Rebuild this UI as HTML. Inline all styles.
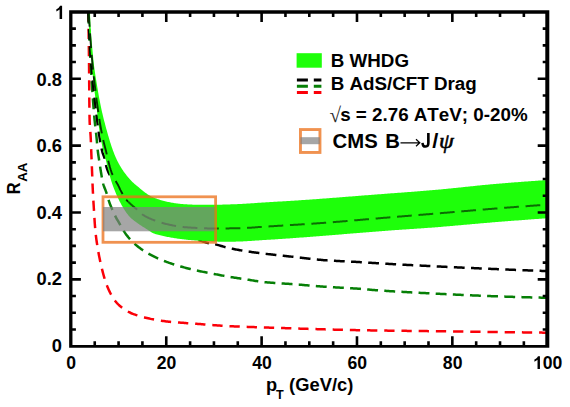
<!DOCTYPE html>
<html><head><meta charset="utf-8"><title>RAA</title>
<style>html,body{margin:0;padding:0;background:#fff;font-family:"Liberation Sans",sans-serif;}svg{display:block}</style></head>
<body>
<svg width="570" height="407" viewBox="0 0 570 407" style="display:block">
<defs><clipPath id="cp"><rect x="70.90" y="11.90" width="476.80" height="334.30"/></clipPath></defs>
<rect width="570" height="407" fill="#fff"/>
<g clip-path="url(#cp)" fill="none" stroke-linecap="butt">
<path d="M88.30 12.00 L88.32 13.22 L88.34 14.44 L88.36 15.66 L88.38 16.88 L88.40 18.10 L88.42 19.31 L88.44 20.53 L88.46 21.75 L88.48 22.97 L88.50 24.19 L88.52 25.41 L88.54 26.63 L88.55 27.85 L88.57 29.07 L88.59 30.29 L88.61 31.51 L88.63 32.73 L88.65 33.95 L88.67 35.16 L88.68 36.38 L88.70 37.60 L88.72 38.82 L88.74 40.04 L88.75 41.26 L88.77 42.48 L88.79 43.70 L88.81 44.92 L88.82 46.14 L88.84 47.36 L88.86 48.58 L88.87 49.79 L88.89 51.01 L88.90 52.23 L88.92 53.45 L88.93 54.67 L88.95 55.89 L88.96 57.11 L88.98 58.33 L88.99 59.55 L89.01 60.77 L89.02 61.99 L89.04 63.21 L89.05 64.43 L89.06 65.65 L89.07 66.86 L89.08 68.08 L89.09 69.30 L89.10 70.52 L89.11 71.74 L89.12 72.96 L89.13 74.18 L89.14 75.40 L89.15 76.62 L89.16 77.84 L89.17 79.06 L89.18 80.28 L89.18 81.50 L89.19 82.72 L89.20 83.94 L89.21 85.16 L89.22 86.38 L89.22 87.60 L89.23 88.82 L89.24 90.04 L89.25 91.26 L89.26 92.48 L89.27 93.70 L89.28 94.92 L89.29 96.14 L89.30 97.36 L89.31 98.57 L89.32 99.79 L89.33 101.01 L89.34 102.23 L89.36 103.45 L89.37 104.67 L89.38 105.89 L89.40 107.11 L89.41 108.33 L89.43 109.55 L89.44 110.76 L89.46 111.98 L89.48 113.20 L89.50 114.42 L89.52 115.64 L89.54 116.86 L89.56 118.07 L89.59 119.29 L89.61 120.51 L89.65 121.73 L89.70 122.95 L89.77 124.16 L89.84 125.38 L89.93 126.60 L90.02 127.81 L90.11 129.03 L90.20 130.25 L90.30 131.46 L90.39 132.68 L90.48 133.90 L90.56 135.11 L90.64 136.33 L90.70 137.55 L90.76 138.76 L90.82 139.98 L90.87 141.20 L90.92 142.42 L90.97 143.64 L91.02 144.86 L91.06 146.07 L91.11 147.29 L91.15 148.51 L91.20 149.73 L91.24 150.95 L91.29 152.17 L91.34 153.39 L91.38 154.60 L91.43 155.82 L91.48 157.04 L91.53 158.26 L91.58 159.48 L91.63 160.70 L91.67 161.91 L91.72 163.13 L91.77 164.35 L91.82 165.57 L91.87 166.79 L91.92 168.01 L91.97 169.22 L92.01 170.44 L92.06 171.66 L92.11 172.88 L92.16 174.10 L92.21 175.32 L92.25 176.53 L92.30 177.75 L92.35 178.97 L92.39 180.19 L92.44 181.41 L92.49 182.63 L92.53 183.85 L92.58 185.06 L92.63 186.28 L92.69 187.50 L92.74 188.72 L92.80 189.94 L92.86 191.15 L92.92 192.37 L92.98 193.59 L93.04 194.81 L93.11 196.02 L93.18 197.24 L93.25 198.46 L93.32 199.68 L93.39 200.89 L93.46 202.11 L93.54 203.33 L93.61 204.55 L93.69 205.76 L93.76 206.98 L93.83 208.20 L93.91 209.41 L93.98 210.63 L94.05 211.85 L94.12 213.07 L94.19 214.29 L94.27 215.50 L94.34 216.72 L94.42 217.94 L94.50 219.16 L94.58 220.37 L94.66 221.59 L94.74 222.81 L94.83 224.02 L94.92 225.24 L95.01 226.45 L95.11 227.67 L95.21 228.88 L95.32 230.10 L95.43 231.31 L95.55 232.52 L95.68 233.73 L95.81 234.94 L95.96 236.16 L96.11 237.37 L96.27 238.58 L96.43 239.79 L96.60 240.99 L96.78 242.20 L96.96 243.41 L97.14 244.61 L97.33 245.82 L97.52 247.02 L97.71 248.22 L97.91 249.43 L98.12 250.63 L98.34 251.83 L98.55 253.03 L98.78 254.23 L99.01 255.43 L99.24 256.63 L99.48 257.83 L99.73 259.03 L99.98 260.22 L100.23 261.41 L100.49 262.61 L100.76 263.79 L101.03 264.98 L101.31 266.17 L101.59 267.35 L101.87 268.53 L102.17 269.72 L102.47 270.90 L102.77 272.09 L103.08 273.28 L103.40 274.47 L103.73 275.66 L104.07 276.84 L104.42 278.02 L104.78 279.20 L105.14 280.37 L105.52 281.53 L105.92 282.68 L106.32 283.83 L106.74 284.96 L107.17 286.09 L107.61 287.20 L108.07 288.30 L108.56 289.41 L109.07 290.53 L109.60 291.65 L110.16 292.77 L110.74 293.89 L111.35 294.99 L111.98 296.09 L112.62 297.16 L113.29 298.21 L113.98 299.24 L114.69 300.23 L115.42 301.19 L116.16 302.11 L116.93 302.99 L117.71 303.82 L118.53 304.64 L119.40 305.45 L120.31 306.25 L121.26 307.03 L122.24 307.81 L123.26 308.56 L124.29 309.29 L125.35 309.99 L126.43 310.66 L127.52 311.30 L128.61 311.91 L129.72 312.47 L130.82 313.00 L131.92 313.47 L133.01 313.90 L134.11 314.30 L135.21 314.69 L136.33 315.07 L137.47 315.44 L138.61 315.80 L139.76 316.15 L140.93 316.49 L142.10 316.82 L143.28 317.14 L144.47 317.45 L145.66 317.75 L146.86 318.04 L148.07 318.32 L149.28 318.59 L150.50 318.86 L151.71 319.11 L152.93 319.35 L154.16 319.58 L155.38 319.80 L156.60 320.02 L157.82 320.22 L159.04 320.42 L160.26 320.60 L161.48 320.78 L162.69 320.94 L163.90 321.10 L165.10 321.25 L166.30 321.39 L167.51 321.52 L168.71 321.65 L169.92 321.78 L171.13 321.89 L172.35 322.01 L173.56 322.12 L174.77 322.22 L175.99 322.32 L177.20 322.42 L178.42 322.52 L179.64 322.61 L180.86 322.70 L182.08 322.79 L183.30 322.87 L184.51 322.96 L185.73 323.05 L186.95 323.13 L188.17 323.21 L189.39 323.30 L190.61 323.38 L191.83 323.47 L193.05 323.56 L194.27 323.65 L195.48 323.74 L196.70 323.83 L197.92 323.93 L199.13 324.02 L200.35 324.12 L201.56 324.22 L202.78 324.31 L203.99 324.41 L205.21 324.51 L206.42 324.61 L207.64 324.71 L208.86 324.80 L210.07 324.90 L211.29 325.00 L212.50 325.09 L213.72 325.18 L214.94 325.28 L216.15 325.37 L217.37 325.45 L218.58 325.54 L219.80 325.62 L221.02 325.70 L222.23 325.78 L223.45 325.86 L224.67 325.93 L225.88 326.00 L227.10 326.06 L228.32 326.12 L229.54 326.18 L230.75 326.24 L231.97 326.29 L233.19 326.35 L234.41 326.40 L235.63 326.45 L236.84 326.50 L238.06 326.55 L239.28 326.59 L240.50 326.64 L241.72 326.68 L242.94 326.73 L244.15 326.77 L245.37 326.81 L246.59 326.86 L247.81 326.90 L249.03 326.94 L250.25 326.98 L251.47 327.02 L252.69 327.06 L253.91 327.10 L255.12 327.14 L256.34 327.18 L257.56 327.22 L258.78 327.26 L260.00 327.30 L261.22 327.34 L262.44 327.38 L263.66 327.42 L264.87 327.46 L266.09 327.50 L267.31 327.54 L268.53 327.59 L269.75 327.63 L270.97 327.67 L272.19 327.71 L273.40 327.75 L274.62 327.79 L275.84 327.83 L277.06 327.87 L278.28 327.91 L279.50 327.95 L280.72 327.99 L281.94 328.04 L283.15 328.08 L284.37 328.12 L285.59 328.16 L286.81 328.20 L288.03 328.24 L289.25 328.28 L290.47 328.32 L291.68 328.36 L292.90 328.40 L294.12 328.44 L295.34 328.48 L296.56 328.52 L297.78 328.56 L299.00 328.60 L300.22 328.63 L301.43 328.67 L302.65 328.71 L303.87 328.75 L305.09 328.79 L306.31 328.83 L307.53 328.86 L308.75 328.90 L309.97 328.94 L311.19 328.98 L312.40 329.01 L313.62 329.05 L314.84 329.09 L316.06 329.12 L317.28 329.16 L318.50 329.19 L319.72 329.23 L320.94 329.27 L322.15 329.30 L323.37 329.33 L324.59 329.37 L325.81 329.40 L327.03 329.44 L328.25 329.47 L329.47 329.50 L330.69 329.54 L331.91 329.57 L333.12 329.60 L334.34 329.63 L335.56 329.66 L336.78 329.69 L338.00 329.72 L339.22 329.75 L340.44 329.78 L341.66 329.81 L342.88 329.84 L344.09 329.87 L345.31 329.90 L346.53 329.93 L347.75 329.95 L348.97 329.98 L350.19 330.01 L351.41 330.03 L352.63 330.06 L353.85 330.08 L355.07 330.11 L356.28 330.13 L357.50 330.15 L358.72 330.18 L359.94 330.20 L361.16 330.22 L362.38 330.24 L363.60 330.26 L364.82 330.29 L366.04 330.31 L367.26 330.33 L368.47 330.35 L369.69 330.37 L370.91 330.39 L372.13 330.41 L373.35 330.42 L374.57 330.44 L375.79 330.46 L377.01 330.48 L378.23 330.50 L379.45 330.52 L380.67 330.53 L381.89 330.55 L383.10 330.57 L384.32 330.59 L385.54 330.60 L386.76 330.62 L387.98 330.64 L389.20 330.65 L390.42 330.67 L391.64 330.69 L392.86 330.70 L394.08 330.72 L395.30 330.73 L396.52 330.75 L397.73 330.76 L398.95 330.78 L400.17 330.80 L401.39 330.81 L402.61 330.83 L403.83 330.84 L405.05 330.85 L406.27 330.87 L407.49 330.88 L408.71 330.90 L409.93 330.91 L411.15 330.93 L412.37 330.94 L413.59 330.96 L414.80 330.97 L416.02 330.99 L417.24 331.00 L418.46 331.01 L419.68 331.03 L420.90 331.04 L422.12 331.06 L423.34 331.07 L424.56 331.09 L425.78 331.10 L427.00 331.11 L428.22 331.13 L429.44 331.14 L430.66 331.16 L431.87 331.17 L433.09 331.19 L434.31 331.20 L435.53 331.22 L436.75 331.23 L437.97 331.25 L439.19 331.26 L440.41 331.28 L441.63 331.29 L442.85 331.31 L444.07 331.32 L445.29 331.34 L446.51 331.35 L447.72 331.37 L448.94 331.39 L450.16 331.40 L451.38 331.42 L452.60 331.43 L453.82 331.45 L455.04 331.47 L456.26 331.48 L457.48 331.50 L458.70 331.52 L459.92 331.53 L461.14 331.55 L462.36 331.56 L463.57 331.58 L464.79 331.60 L466.01 331.61 L467.23 331.63 L468.45 331.65 L469.67 331.66 L470.89 331.68 L472.11 331.69 L473.33 331.71 L474.55 331.73 L475.77 331.74 L476.99 331.76 L478.20 331.78 L479.42 331.79 L480.64 331.81 L481.86 331.82 L483.08 331.84 L484.30 331.86 L485.52 331.87 L486.74 331.89 L487.96 331.91 L489.18 331.92 L490.40 331.94 L491.62 331.95 L492.84 331.97 L494.05 331.99 L495.27 332.00 L496.49 332.02 L497.71 332.04 L498.93 332.05 L500.15 332.07 L501.37 332.08 L502.59 332.10 L503.81 332.12 L505.03 332.13 L506.25 332.15 L507.47 332.16 L508.69 332.18 L509.90 332.20 L511.12 332.21 L512.34 332.23 L513.56 332.25 L514.78 332.26 L516.00 332.28 L517.22 332.29 L518.44 332.31 L519.66 332.33 L520.88 332.34 L522.10 332.36 L523.32 332.38 L524.53 332.39 L525.75 332.41 L526.97 332.42 L528.19 332.44 L529.41 332.46 L530.63 332.47 L531.85 332.49 L533.07 332.51 L534.29 332.52 L535.51 332.54 L536.73 332.55 L537.95 332.57 L539.17 332.59 L540.38 332.60 L541.60 332.62 L542.82 332.64 L544.04 332.65 L545.26 332.67 L546.48 332.68 L547.70 332.70" stroke="#fb0008" stroke-width="2.5" stroke-dasharray="10.3 6.905" stroke-dashoffset="-16.7"/>
<path d="M88.40 12.00 L88.44 13.10 L88.47 14.21 L88.51 15.31 L88.55 16.42 L88.59 17.52 L88.63 18.63 L88.67 19.73 L88.71 20.83 L88.75 21.94 L88.80 23.04 L88.84 24.15 L88.88 25.25 L88.93 26.36 L88.97 27.46 L89.02 28.56 L89.06 29.67 L89.11 30.77 L89.15 31.88 L89.20 32.98 L89.25 34.08 L89.30 35.19 L89.35 36.29 L89.39 37.39 L89.44 38.50 L89.49 39.60 L89.55 40.71 L89.60 41.81 L89.65 42.91 L89.70 44.02 L89.75 45.12 L89.80 46.22 L89.86 47.33 L89.91 48.43 L89.97 49.53 L90.02 50.64 L90.08 51.74 L90.13 52.84 L90.19 53.95 L90.24 55.05 L90.30 56.15 L90.36 57.26 L90.41 58.36 L90.47 59.46 L90.53 60.57 L90.59 61.67 L90.65 62.77 L90.71 63.88 L90.77 64.98 L90.83 66.08 L90.89 67.19 L90.95 68.29 L91.01 69.39 L91.07 70.50 L91.13 71.60 L91.20 72.70 L91.26 73.81 L91.33 74.91 L91.39 76.01 L91.46 77.12 L91.52 78.22 L91.59 79.32 L91.66 80.42 L91.72 81.53 L91.79 82.63 L91.86 83.73 L91.93 84.84 L92.00 85.94 L92.07 87.04 L92.14 88.15 L92.22 89.25 L92.29 90.35 L92.36 91.45 L92.44 92.56 L92.51 93.66 L92.59 94.76 L92.67 95.86 L92.74 96.97 L92.82 98.07 L92.90 99.17 L92.98 100.27 L93.06 101.37 L93.15 102.48 L93.23 103.58 L93.31 104.68 L93.40 105.78 L93.48 106.88 L93.57 107.98 L93.66 109.09 L93.74 110.19 L93.83 111.29 L93.92 112.39 L94.02 113.49 L94.11 114.59 L94.20 115.69 L94.30 116.79 L94.39 117.89 L94.49 118.99 L94.59 120.09 L94.71 121.19 L94.82 122.29 L94.94 123.38 L95.07 124.48 L95.19 125.58 L95.32 126.68 L95.45 127.77 L95.58 128.87 L95.71 129.97 L95.84 131.07 L95.97 132.16 L96.10 133.26 L96.22 134.36 L96.34 135.46 L96.46 136.56 L96.56 137.66 L96.67 138.76 L96.77 139.86 L96.87 140.96 L96.96 142.06 L97.05 143.16 L97.15 144.26 L97.24 145.36 L97.34 146.46 L97.44 147.56 L97.55 148.66 L97.66 149.76 L97.78 150.86 L97.92 151.96 L98.06 153.05 L98.21 154.14 L98.37 155.24 L98.54 156.33 L98.71 157.42 L98.88 158.51 L99.05 159.61 L99.21 160.70 L99.38 161.79 L99.54 162.89 L99.70 163.98 L99.86 165.07 L100.02 166.17 L100.19 167.26 L100.36 168.35 L100.53 169.44 L100.71 170.53 L100.89 171.62 L101.07 172.71 L101.25 173.81 L101.43 174.90 L101.61 175.99 L101.80 177.09 L102.00 178.18 L102.20 179.26 L102.42 180.35 L102.64 181.43 L102.88 182.50 L103.14 183.57 L103.43 184.62 L103.76 185.67 L104.13 186.71 L104.52 187.74 L104.93 188.78 L105.34 189.81 L105.74 190.84 L106.12 191.88 L106.47 192.93 L106.80 193.98 L107.12 195.04 L107.43 196.11 L107.74 197.17 L108.05 198.23 L108.36 199.29 L108.69 200.34 L109.03 201.39 L109.39 202.44 L109.76 203.47 L110.15 204.51 L110.56 205.54 L110.97 206.57 L111.39 207.59 L111.82 208.61 L112.25 209.62 L112.70 210.63 L113.15 211.64 L113.61 212.65 L114.08 213.65 L114.56 214.64 L115.06 215.63 L115.56 216.62 L116.07 217.59 L116.60 218.56 L117.15 219.52 L117.71 220.47 L118.27 221.42 L118.84 222.37 L119.40 223.32 L119.96 224.28 L120.51 225.24 L121.06 226.20 L121.61 227.17 L122.15 228.14 L122.70 229.11 L123.26 230.07 L123.83 231.01 L124.41 231.95 L125.01 232.87 L125.63 233.77 L126.28 234.65 L126.94 235.52 L127.63 236.39 L128.33 237.26 L129.05 238.11 L129.78 238.95 L130.53 239.78 L131.29 240.59 L132.07 241.39 L132.85 242.17 L133.64 242.93 L134.45 243.67 L135.26 244.39 L136.09 245.10 L136.94 245.81 L137.80 246.50 L138.67 247.18 L139.56 247.85 L140.46 248.50 L141.37 249.15 L142.29 249.79 L143.21 250.41 L144.15 251.02 L145.08 251.62 L146.03 252.20 L146.97 252.77 L147.92 253.32 L148.87 253.87 L149.83 254.40 L150.79 254.92 L151.77 255.43 L152.75 255.93 L153.75 256.43 L154.74 256.91 L155.75 257.39 L156.75 257.85 L157.77 258.31 L158.78 258.76 L159.80 259.20 L160.82 259.63 L161.85 260.06 L162.87 260.47 L163.89 260.88 L164.92 261.28 L165.95 261.67 L166.98 262.06 L168.02 262.44 L169.06 262.81 L170.10 263.18 L171.15 263.54 L172.20 263.89 L173.25 264.24 L174.31 264.58 L175.36 264.91 L176.42 265.24 L177.48 265.56 L178.54 265.87 L179.60 266.18 L180.66 266.49 L181.72 266.79 L182.78 267.08 L183.85 267.37 L184.92 267.65 L185.99 267.93 L187.06 268.20 L188.13 268.47 L189.20 268.73 L190.28 268.99 L191.35 269.25 L192.43 269.50 L193.51 269.75 L194.59 270.00 L195.66 270.24 L196.74 270.49 L197.82 270.73 L198.90 270.96 L199.98 271.19 L201.06 271.42 L202.14 271.64 L203.22 271.86 L204.31 272.08 L205.39 272.29 L206.48 272.51 L207.56 272.72 L208.65 272.93 L209.73 273.14 L210.82 273.35 L211.90 273.55 L212.99 273.76 L214.07 273.97 L215.16 274.18 L216.24 274.39 L217.33 274.60 L218.41 274.80 L219.50 275.01 L220.58 275.22 L221.67 275.42 L222.75 275.62 L223.84 275.82 L224.93 276.02 L226.02 276.22 L227.10 276.41 L228.19 276.60 L229.28 276.79 L230.37 276.98 L231.46 277.16 L232.55 277.34 L233.64 277.51 L234.73 277.69 L235.82 277.86 L236.91 278.03 L238.01 278.20 L239.10 278.36 L240.19 278.53 L241.28 278.69 L242.38 278.85 L243.47 279.02 L244.56 279.18 L245.65 279.34 L246.75 279.51 L247.84 279.67 L248.93 279.84 L250.02 280.00 L251.12 280.18 L252.21 280.36 L253.30 280.54 L254.39 280.72 L255.48 280.91 L256.57 281.09 L257.66 281.27 L258.75 281.44 L259.85 281.61 L260.94 281.76 L262.03 281.89 L263.13 282.01 L264.23 282.12 L265.32 282.23 L266.42 282.33 L267.52 282.43 L268.62 282.52 L269.72 282.61 L270.82 282.70 L271.92 282.78 L273.02 282.87 L274.13 282.94 L275.23 283.02 L276.33 283.10 L277.43 283.17 L278.54 283.24 L279.64 283.31 L280.74 283.38 L281.85 283.45 L282.95 283.52 L284.06 283.59 L285.16 283.65 L286.26 283.72 L287.37 283.79 L288.47 283.86 L289.57 283.94 L290.68 284.01 L291.78 284.09 L292.88 284.17 L293.98 284.25 L295.09 284.33 L296.19 284.41 L297.29 284.50 L298.39 284.59 L299.49 284.68 L300.59 284.77 L301.69 284.86 L302.80 284.95 L303.90 285.04 L305.00 285.13 L306.10 285.22 L307.20 285.32 L308.30 285.41 L309.40 285.50 L310.50 285.59 L311.60 285.69 L312.71 285.78 L313.81 285.87 L314.91 285.96 L316.01 286.05 L317.11 286.14 L318.21 286.22 L319.31 286.31 L320.41 286.39 L321.52 286.48 L322.62 286.56 L323.72 286.64 L324.82 286.72 L325.92 286.79 L327.03 286.87 L328.13 286.94 L329.23 287.01 L330.33 287.08 L331.44 287.15 L332.54 287.21 L333.64 287.28 L334.75 287.34 L335.85 287.40 L336.95 287.47 L338.05 287.53 L339.16 287.59 L340.26 287.65 L341.36 287.71 L342.47 287.77 L343.57 287.83 L344.67 287.89 L345.78 287.95 L346.88 288.01 L347.98 288.08 L349.09 288.14 L350.19 288.20 L351.29 288.27 L352.40 288.34 L353.50 288.40 L354.60 288.47 L355.70 288.54 L356.81 288.62 L357.91 288.69 L359.01 288.77 L360.11 288.85 L361.21 288.94 L362.31 289.03 L363.42 289.12 L364.52 289.21 L365.62 289.31 L366.72 289.40 L367.82 289.50 L368.92 289.60 L370.02 289.69 L371.12 289.79 L372.22 289.88 L373.32 289.98 L374.42 290.07 L375.53 290.16 L376.63 290.25 L377.73 290.34 L378.83 290.42 L379.93 290.50 L381.03 290.57 L382.14 290.65 L383.24 290.72 L384.34 290.79 L385.44 290.86 L386.54 290.94 L387.65 291.01 L388.75 291.08 L389.85 291.15 L390.95 291.21 L392.06 291.28 L393.16 291.35 L394.26 291.42 L395.37 291.48 L396.47 291.55 L397.57 291.61 L398.67 291.68 L399.78 291.74 L400.88 291.81 L401.98 291.87 L403.09 291.93 L404.19 292.00 L405.29 292.06 L406.40 292.12 L407.50 292.18 L408.60 292.24 L409.71 292.30 L410.81 292.36 L411.91 292.42 L413.02 292.48 L414.12 292.54 L415.22 292.59 L416.33 292.65 L417.43 292.71 L418.53 292.77 L419.64 292.82 L420.74 292.88 L421.84 292.94 L422.95 292.99 L424.05 293.05 L425.16 293.11 L426.26 293.16 L427.36 293.22 L428.47 293.27 L429.57 293.33 L430.67 293.38 L431.78 293.44 L432.88 293.49 L433.98 293.55 L435.09 293.60 L436.19 293.66 L437.29 293.71 L438.40 293.77 L439.50 293.82 L440.60 293.88 L441.71 293.93 L442.81 293.99 L443.91 294.04 L445.02 294.10 L446.12 294.15 L447.23 294.20 L448.33 294.26 L449.43 294.31 L450.54 294.36 L451.64 294.42 L452.74 294.47 L453.85 294.52 L454.95 294.57 L456.05 294.63 L457.16 294.68 L458.26 294.73 L459.37 294.78 L460.47 294.83 L461.57 294.88 L462.68 294.94 L463.78 294.99 L464.88 295.04 L465.99 295.09 L467.09 295.14 L468.20 295.19 L469.30 295.23 L470.40 295.28 L471.51 295.33 L472.61 295.38 L473.71 295.43 L474.82 295.47 L475.92 295.52 L477.03 295.57 L478.13 295.61 L479.23 295.66 L480.34 295.70 L481.44 295.75 L482.55 295.79 L483.65 295.84 L484.75 295.88 L485.86 295.93 L486.96 295.97 L488.07 296.01 L489.17 296.05 L490.27 296.09 L491.38 296.13 L492.48 296.17 L493.59 296.21 L494.69 296.25 L495.79 296.29 L496.90 296.33 L498.00 296.37 L499.11 296.41 L500.21 296.45 L501.31 296.48 L502.42 296.52 L503.52 296.56 L504.63 296.59 L505.73 296.63 L506.84 296.67 L507.94 296.70 L509.04 296.74 L510.15 296.77 L511.25 296.81 L512.36 296.84 L513.46 296.88 L514.57 296.91 L515.67 296.95 L516.77 296.98 L517.88 297.01 L518.98 297.05 L520.09 297.08 L521.19 297.11 L522.30 297.15 L523.40 297.18 L524.50 297.21 L525.61 297.24 L526.71 297.27 L527.82 297.30 L528.92 297.33 L530.03 297.36 L531.13 297.39 L532.24 297.42 L533.34 297.45 L534.44 297.48 L535.55 297.51 L536.65 297.54 L537.76 297.57 L538.86 297.59 L539.97 297.62 L541.07 297.65 L542.18 297.67 L543.28 297.70 L544.39 297.73 L545.49 297.75 L546.60 297.78 L547.70 297.80" stroke="#067f06" stroke-width="2.5" stroke-dasharray="10.9 6.259" stroke-dashoffset="-0.74"/>
<path d="M88.40 12.00 L88.44 13.06 L88.47 14.11 L88.51 15.17 L88.55 16.22 L88.59 17.28 L88.63 18.33 L88.67 19.39 L88.72 20.44 L88.76 21.50 L88.81 22.55 L88.85 23.61 L88.90 24.66 L88.95 25.72 L89.00 26.77 L89.05 27.82 L89.10 28.88 L89.15 29.93 L89.21 30.99 L89.26 32.04 L89.32 33.10 L89.37 34.15 L89.43 35.20 L89.49 36.26 L89.55 37.31 L89.61 38.36 L89.67 39.42 L89.73 40.47 L89.79 41.52 L89.86 42.58 L89.92 43.63 L89.99 44.68 L90.05 45.74 L90.12 46.79 L90.18 47.84 L90.25 48.90 L90.32 49.95 L90.39 51.00 L90.46 52.05 L90.53 53.11 L90.60 54.16 L90.67 55.21 L90.74 56.26 L90.81 57.32 L90.89 58.37 L90.96 59.42 L91.03 60.47 L91.11 61.52 L91.19 62.57 L91.26 63.63 L91.34 64.68 L91.43 65.73 L91.51 66.78 L91.59 67.83 L91.68 68.88 L91.77 69.94 L91.86 70.99 L91.95 72.04 L92.04 73.09 L92.14 74.14 L92.23 75.19 L92.33 76.24 L92.42 77.29 L92.52 78.34 L92.62 79.39 L92.72 80.45 L92.83 81.50 L92.93 82.55 L93.03 83.60 L93.14 84.65 L93.25 85.70 L93.36 86.75 L93.46 87.80 L93.57 88.85 L93.68 89.90 L93.80 90.95 L93.91 92.00 L94.02 93.05 L94.14 94.10 L94.25 95.15 L94.37 96.20 L94.48 97.25 L94.60 98.29 L94.72 99.34 L94.84 100.39 L94.96 101.44 L95.08 102.49 L95.20 103.54 L95.32 104.59 L95.44 105.64 L95.56 106.69 L95.68 107.73 L95.81 108.78 L95.93 109.83 L96.05 110.88 L96.18 111.93 L96.30 112.97 L96.43 114.02 L96.55 115.07 L96.68 116.12 L96.80 117.17 L96.93 118.21 L97.05 119.26 L97.18 120.31 L97.31 121.36 L97.44 122.40 L97.57 123.45 L97.71 124.50 L97.84 125.54 L97.98 126.59 L98.12 127.64 L98.26 128.68 L98.41 129.73 L98.56 130.77 L98.71 131.82 L98.86 132.86 L99.02 133.91 L99.18 134.95 L99.34 135.99 L99.51 137.03 L99.67 138.07 L99.84 139.12 L100.01 140.16 L100.19 141.20 L100.37 142.25 L100.55 143.29 L100.74 144.33 L100.93 145.37 L101.13 146.41 L101.34 147.45 L101.56 148.48 L101.79 149.51 L102.03 150.53 L102.28 151.55 L102.56 152.56 L102.89 153.56 L103.26 154.55 L103.65 155.54 L104.03 156.53 L104.36 157.53 L104.64 158.54 L104.88 159.56 L105.10 160.60 L105.30 161.64 L105.50 162.68 L105.71 163.71 L105.94 164.74 L106.19 165.76 L106.47 166.78 L106.78 167.79 L107.10 168.81 L107.45 169.81 L107.82 170.80 L108.21 171.78 L108.62 172.74 L109.07 173.68 L109.59 174.59 L110.14 175.49 L110.72 176.38 L111.30 177.27 L111.89 178.16 L112.45 179.06 L112.98 179.97 L113.48 180.90 L113.97 181.83 L114.44 182.78 L114.90 183.72 L115.36 184.68 L115.82 185.63 L116.27 186.58 L116.74 187.53 L117.21 188.48 L117.69 189.41 L118.19 190.34 L118.69 191.27 L119.19 192.20 L119.69 193.13 L120.20 194.06 L120.72 194.99 L121.24 195.91 L121.77 196.83 L122.30 197.74 L122.85 198.64 L123.40 199.54 L123.96 200.43 L124.54 201.31 L125.12 202.18 L125.72 203.04 L126.33 203.90 L126.95 204.76 L127.59 205.61 L128.23 206.46 L128.89 207.30 L129.55 208.12 L130.23 208.94 L130.92 209.74 L131.62 210.53 L132.33 211.30 L133.05 212.05 L133.78 212.79 L134.53 213.53 L135.30 214.26 L136.07 214.98 L136.86 215.69 L137.66 216.40 L138.47 217.09 L139.29 217.77" stroke="#000" stroke-width="2.5" stroke-dasharray="10.8 6.358" stroke-dashoffset="0"/>
<path d="M140.12 218.44 L140.95 219.10 L141.80 219.74 L142.65 220.37 L143.51 220.98 L144.37 221.58 L145.23 222.15 L146.11 222.72 L146.99 223.29 L147.89 223.85 L148.79 224.39 L149.71 224.94 L150.63 225.47 L151.56 225.99 L152.50 226.50 L153.44 227.00 L154.39 227.48 L155.34 227.95 L156.30 228.41 L157.26 228.85 L158.22 229.27 L159.19 229.67 L160.15 230.06 L161.13 230.43 L162.11 230.79 L163.09 231.15 L164.09 231.49 L165.08 231.82 L166.09 232.15 L167.10 232.47 L168.11 232.78 L169.12 233.08 L170.14 233.37 L171.16 233.67 L172.18 233.95 L173.21 234.23 L174.23 234.51 L175.26 234.78 L176.29 235.05 L177.31 235.31 L178.34 235.58 L179.36 235.84 L180.38 236.10 L181.40 236.35 L182.43 236.59 L183.46 236.82 L184.49 237.04 L185.52 237.26 L186.56 237.48 L187.59 237.69 L188.63 237.90 L189.67 238.11 L190.70 238.32 L191.74 238.53 L192.77 238.75 L193.80 238.97 L194.83 239.19 L195.86 239.43 L196.89 239.67 L197.91 239.92 L198.93 240.18 L199.95 240.47 L200.96 240.78 L201.96 241.11 L202.96 241.45 L203.96 241.79 L204.97 242.12 L205.97 242.44 L206.98 242.74 L208.00 243.00 L209.03 243.23 L210.06 243.43 L211.10 243.62 L212.14 243.81 L213.18 243.99 L214.22 244.18 L215.26 244.38 L216.29 244.61 L217.31 244.86 L218.33 245.13 L219.35 245.42 L220.36 245.71 L221.38 246.01 L222.39 246.31 L223.40 246.61 L224.42 246.90 L225.44 247.19 L226.46 247.46 L227.48 247.70 L228.51 247.93 L229.54 248.16 L230.57 248.38 L231.60 248.59 L232.63 248.80 L233.67 249.01 L234.70 249.22 L235.74 249.42 L236.78 249.61 L237.82 249.81 L238.86 249.99 L239.90 250.18 L240.94 250.36 L241.98 250.54 L243.02 250.72 L244.06 250.89 L245.11 251.05 L246.15 251.22 L247.19 251.38 L248.24 251.54 L249.28 251.69 L250.32 251.85 L251.36 252.00 L252.41 252.14 L253.45 252.29 L254.50 252.43 L255.54 252.57 L256.59 252.71 L257.63 252.85 L258.68 252.98 L259.72 253.11 L260.77 253.24 L261.82 253.37 L262.87 253.50 L263.91 253.63 L264.96 253.75 L266.01 253.87 L267.06 254.00 L268.11 254.12 L269.15 254.24 L270.20 254.36 L271.25 254.47 L272.30 254.59 L273.35 254.71 L274.40 254.82 L275.45 254.93 L276.50 255.05 L277.55 255.16 L278.60 255.27 L279.65 255.39 L280.70 255.50 L281.75 255.61 L282.80 255.72 L283.85 255.83 L284.90 255.94 L285.95 256.06 L287.00 256.17 L288.05 256.28 L289.10 256.39 L290.15 256.50 L291.20 256.62 L292.25 256.73 L293.30 256.85 L294.35 256.96 L295.40 257.08 L296.45 257.19 L297.49 257.31 L298.54 257.43 L299.59 257.56 L300.64 257.68 L301.69 257.80 L302.74 257.92 L303.79 258.05 L304.83 258.17 L305.88 258.29 L306.93 258.41 L307.98 258.53 L309.03 258.65 L310.08 258.77 L311.13 258.89 L312.18 259.01 L313.23 259.12 L314.28 259.24 L315.33 259.35 L316.38 259.46 L317.43 259.56 L318.48 259.66 L319.53 259.76 L320.58 259.86 L321.63 259.95 L322.68 260.04 L323.73 260.13 L324.78 260.21 L325.83 260.29 L326.88 260.36 L327.93 260.43 L328.99 260.50 L330.04 260.57 L331.09 260.63 L332.15 260.69 L333.20 260.75 L334.25 260.81 L335.31 260.86 L336.36 260.92 L337.41 260.97 L338.47 261.02 L339.52 261.07 L340.58 261.13 L341.63 261.17 L342.69 261.22 L343.74 261.27 L344.79 261.32 L345.85 261.37 L346.90 261.42 L347.96 261.47 L349.01 261.52 L350.07 261.57 L351.12 261.63 L352.18 261.68 L353.23 261.73 L354.28 261.79 L355.34 261.85 L356.39 261.91 L357.45 261.97 L358.50 262.03 L359.55 262.10 L360.60 262.17 L361.66 262.24 L362.71 262.31 L363.76 262.38 L364.82 262.46 L365.87 262.53 L366.92 262.60 L367.97 262.67 L369.03 262.74 L370.08 262.80 L371.13 262.87 L372.19 262.93 L373.24 263.00 L374.29 263.06 L375.35 263.12 L376.40 263.18 L377.45 263.25 L378.51 263.31 L379.56 263.37 L380.61 263.43 L381.67 263.49 L382.72 263.55 L383.78 263.61 L384.83 263.67 L385.88 263.73 L386.94 263.79 L387.99 263.85 L389.04 263.91 L390.10 263.97 L391.15 264.03 L392.20 264.09 L393.26 264.14 L394.31 264.20 L395.37 264.26 L396.42 264.32 L397.47 264.37 L398.53 264.43 L399.58 264.49 L400.63 264.54 L401.69 264.60 L402.74 264.66 L403.80 264.71 L404.85 264.77 L405.90 264.82 L406.96 264.88 L408.01 264.93 L409.07 264.99 L410.12 265.04 L411.17 265.10 L412.23 265.15 L413.28 265.21 L414.33 265.26 L415.39 265.31 L416.44 265.37 L417.50 265.42 L418.55 265.48 L419.60 265.53 L420.66 265.58 L421.71 265.64 L422.77 265.69 L423.82 265.74 L424.87 265.79 L425.93 265.85 L426.98 265.90 L428.04 265.95 L429.09 266.01 L430.14 266.06 L431.20 266.11 L432.25 266.16 L433.31 266.22 L434.36 266.27 L435.41 266.32 L436.47 266.37 L437.52 266.42 L438.58 266.48 L439.63 266.53 L440.68 266.58 L441.74 266.63 L442.79 266.68 L443.85 266.73 L444.90 266.78 L445.95 266.83 L447.01 266.89 L448.06 266.94 L449.12 266.99 L450.17 267.04 L451.22 267.09 L452.28 267.14 L453.33 267.19 L454.39 267.24 L455.44 267.29 L456.50 267.34 L457.55 267.39 L458.60 267.44 L459.66 267.49 L460.71 267.54 L461.77 267.58 L462.82 267.63 L463.87 267.68 L464.93 267.73 L465.98 267.78 L467.04 267.83 L468.09 267.88 L469.15 267.92 L470.20 267.97 L471.25 268.02 L472.31 268.07 L473.36 268.12 L474.42 268.16 L475.47 268.21 L476.53 268.26 L477.58 268.30 L478.63 268.35 L479.69 268.40 L480.74 268.44 L481.80 268.49 L482.85 268.54 L483.90 268.58 L484.96 268.63 L486.01 268.67 L487.07 268.72 L488.12 268.77 L489.18 268.81 L490.23 268.86 L491.29 268.90 L492.34 268.95 L493.39 268.99 L494.45 269.03 L495.50 269.08 L496.56 269.12 L497.61 269.17 L498.67 269.21 L499.72 269.26 L500.77 269.30 L501.83 269.34 L502.88 269.39 L503.94 269.43 L504.99 269.47 L506.05 269.51 L507.10 269.56 L508.15 269.60 L509.21 269.64 L510.26 269.69 L511.32 269.73 L512.37 269.77 L513.43 269.81 L514.48 269.85 L515.54 269.90 L516.59 269.94 L517.64 269.98 L518.70 270.02 L519.75 270.06 L520.81 270.10 L521.86 270.14 L522.92 270.18 L523.97 270.22 L525.03 270.26 L526.08 270.30 L527.14 270.35 L528.19 270.39 L529.24 270.43 L530.30 270.46 L531.35 270.50 L532.41 270.54 L533.46 270.58 L534.52 270.62 L535.57 270.66 L536.63 270.70 L537.68 270.74 L538.74 270.78 L539.79 270.82 L540.84 270.85 L541.90 270.89 L542.95 270.93 L544.01 270.97 L545.06 271.01 L546.12 271.04 L547.17 271.08" stroke="#000" stroke-width="2.5" stroke-dasharray="10.8 6.358" stroke-dashoffset="211.56"/>
<path d="M90.00 12.00 L90.03 13.00 L90.06 14.01 L90.09 15.01 L90.12 16.02 L90.16 17.02 L90.20 18.02 L90.24 19.03 L90.28 20.03 L90.33 21.03 L90.38 22.04 L90.43 23.04 L90.48 24.04 L90.53 25.04 L90.59 26.05 L90.65 27.05 L90.71 28.05 L90.77 29.05 L90.84 30.05 L90.91 31.05 L90.97 32.05 L91.04 33.05 L91.12 34.05 L91.19 35.05 L91.26 36.05 L91.34 37.05 L91.42 38.05 L91.50 39.05 L91.58 40.05 L91.66 41.05 L91.74 42.05 L91.83 43.05 L91.91 44.04 L92.00 45.04 L92.09 46.04 L92.17 47.04 L92.26 48.03 L92.35 49.03 L92.45 50.03 L92.54 51.03 L92.63 52.02 L92.73 53.02 L92.82 54.02 L92.92 55.01 L93.01 56.01 L93.11 57.01 L93.20 58.00 L93.30 59.00 L93.40 59.99 L93.50 60.99 L93.60 61.98 L93.71 62.98 L93.83 63.97 L93.95 64.97 L94.07 65.96 L94.20 66.95 L94.33 67.95 L94.46 68.94 L94.60 69.93 L94.74 70.93 L94.88 71.92 L95.03 72.91 L95.17 73.90 L95.33 74.90 L95.48 75.89 L95.63 76.88 L95.79 77.87 L95.95 78.86 L96.11 79.85 L96.27 80.84 L96.44 81.83 L96.60 82.82 L96.76 83.81 L96.93 84.80 L97.09 85.79 L97.26 86.78 L97.43 87.77 L97.59 88.76 L97.76 89.75 L97.92 90.73 L98.09 91.72 L98.26 92.71 L98.43 93.70 L98.60 94.68 L98.78 95.67 L98.96 96.66 L99.14 97.65 L99.32 98.63 L99.50 99.62 L99.69 100.60 L99.88 101.59 L100.07 102.57 L100.26 103.56 L100.46 104.54 L100.66 105.52 L100.86 106.50 L101.06 107.48 L101.27 108.47 L101.48 109.44 L101.69 110.42 L101.91 111.40 L102.13 112.38 L102.35 113.35 L102.58 114.33 L102.81 115.31 L103.04 116.28 L103.28 117.26 L103.52 118.23 L103.76 119.20 L104.00 120.18 L104.25 121.15 L104.50 122.12 L104.76 123.09 L105.01 124.06 L105.27 125.03 L105.53 126.00 L105.79 126.97 L106.05 127.93 L106.32 128.90 L106.58 129.87 L106.85 130.83 L107.12 131.80 L107.39 132.76 L107.67 133.72 L107.94 134.69 L108.22 135.65 L108.50 136.62 L108.78 137.58 L109.07 138.54 L109.36 139.50 L109.65 140.47 L109.94 141.42 L110.24 142.38 L110.54 143.34 L110.85 144.29 L111.16 145.25 L111.48 146.20 L111.80 147.15 L112.12 148.09 L112.46 149.04 L112.79 149.98 L113.13 150.92 L113.48 151.86 L113.84 152.80 L114.20 153.73 L114.58 154.67 L114.96 155.60 L115.34 156.53 L115.74 157.45 L116.15 158.36 L116.57 159.27 L116.99 160.18 L117.43 161.07 L117.88 161.96 L118.35 162.85 L118.83 163.73 L119.32 164.61 L119.82 165.48 L120.33 166.35 L120.86 167.21 L121.39 168.07 L121.93 168.91 L122.48 169.75 L123.04 170.58 L123.60 171.39 L124.18 172.21 L124.77 173.01 L125.37 173.82 L125.99 174.62 L126.61 175.41 L127.24 176.19 L127.89 176.97 L128.54 177.74 L129.20 178.50 L129.87 179.25 L130.55 179.98 L131.24 180.71 L131.93 181.43 L132.64 182.13 L133.36 182.81 L134.10 183.48 L134.86 184.14 L135.63 184.79 L136.41 185.43 L137.18 186.07 L137.96 186.71 L138.72 187.36 L139.49 188.01 L140.25 188.67 L141.01 189.33 L141.78 189.98 L142.55 190.62 L143.33 191.25 L144.12 191.87 L144.93 192.46 L145.74 193.03 L146.57 193.58 L147.41 194.13 L148.26 194.67 L149.13 195.20 L150.00 195.72 L150.88 196.21 L151.77 196.68 L152.67 197.12 L153.58 197.52 L154.49 197.90 L155.41 198.26 L156.34 198.61 L157.28 198.95 L158.23 199.27 L159.19 199.59 L160.15 199.90 L161.12 200.19 L162.09 200.47 L163.06 200.74 L164.04 201.00 L165.02 201.24 L166.00 201.47 L166.98 201.69 L167.95 201.89 L168.93 202.08 L169.91 202.28 L170.89 202.46 L171.88 202.64 L172.87 202.82 L173.86 202.99 L174.85 203.15 L175.85 203.30 L176.84 203.44 L177.84 203.57 L178.84 203.70 L179.83 203.81 L180.83 203.90 L181.83 203.99 L182.83 204.06 L183.82 204.13 L184.82 204.20 L185.82 204.27 L186.82 204.33 L187.82 204.39 L188.83 204.45 L189.83 204.50 L190.83 204.55 L191.83 204.59 L192.84 204.63 L193.84 204.66 L194.84 204.68 L195.84 204.70 L196.84 204.71 L197.85 204.72 L198.85 204.73 L199.85 204.74 L200.85 204.75 L201.86 204.76 L202.86 204.77 L203.86 204.78 L204.86 204.78 L205.87 204.79 L206.87 204.79 L207.87 204.80 L208.87 204.80 L209.88 204.80 L210.88 204.80 L211.88 204.79 L212.88 204.79 L213.88 204.78 L214.89 204.76 L215.89 204.75 L216.89 204.73 L217.89 204.72 L218.90 204.70 L219.90 204.69 L220.90 204.67 L221.90 204.65 L222.90 204.62 L223.91 204.60 L224.91 204.57 L225.91 204.54 L226.91 204.51 L227.91 204.48 L228.92 204.44 L229.92 204.41 L230.92 204.37 L231.92 204.34 L232.92 204.30 L233.93 204.26 L234.93 204.22 L235.93 204.17 L236.93 204.13 L237.93 204.09 L238.93 204.05 L239.93 204.00 L240.93 203.96 L241.94 203.91 L242.94 203.86 L243.94 203.80 L244.94 203.74 L245.94 203.68 L246.94 203.62 L247.94 203.55 L248.94 203.48 L249.94 203.41 L250.94 203.34 L251.94 203.27 L252.94 203.20 L253.94 203.13 L254.94 203.06 L255.94 202.98 L256.94 202.91 L257.94 202.84 L258.94 202.77 L259.94 202.70 L260.94 202.63 L261.94 202.57 L262.94 202.50 L263.94 202.44 L264.94 202.38 L265.94 202.32 L266.94 202.26 L267.94 202.20 L268.94 202.14 L269.94 202.08 L270.94 202.02 L271.94 201.96 L272.94 201.90 L273.94 201.84 L274.95 201.79 L275.95 201.73 L276.95 201.67 L277.95 201.61 L278.95 201.55 L279.95 201.49 L280.95 201.44 L281.95 201.38 L282.95 201.32 L283.95 201.26 L284.95 201.20 L285.95 201.14 L286.95 201.08 L287.95 201.02 L288.95 200.96 L289.95 200.90 L290.95 200.84 L291.96 200.77 L292.96 200.71 L293.96 200.65 L294.96 200.58 L295.96 200.52 L296.96 200.45 L297.96 200.39 L298.96 200.32 L299.96 200.25 L300.96 200.19 L301.96 200.12 L302.96 200.05 L303.96 199.98 L304.96 199.91 L305.96 199.84 L306.96 199.77 L307.96 199.70 L308.96 199.63 L309.96 199.56 L310.96 199.49 L311.96 199.42 L312.96 199.35 L313.96 199.28 L314.96 199.21 L315.96 199.14 L316.96 199.06 L317.95 198.99 L318.95 198.92 L319.95 198.84 L320.95 198.77 L321.95 198.70 L322.95 198.62 L323.95 198.55 L324.95 198.48 L325.95 198.40 L326.95 198.33 L327.95 198.25 L328.95 198.18 L329.95 198.10 L330.95 198.03 L331.95 197.95 L332.95 197.87 L333.95 197.80 L334.95 197.72 L335.95 197.64 L336.95 197.56 L337.95 197.48 L338.94 197.41 L339.94 197.33 L340.94 197.25 L341.94 197.17 L342.94 197.09 L343.94 197.01 L344.94 196.93 L345.94 196.85 L346.94 196.77 L347.94 196.69 L348.94 196.61 L349.94 196.53 L350.93 196.46 L351.93 196.38 L352.93 196.30 L353.93 196.22 L354.93 196.14 L355.93 196.06 L356.93 195.98 L357.93 195.91 L358.93 195.83 L359.93 195.75 L360.93 195.67 L361.93 195.60 L362.93 195.52 L363.93 195.44 L364.93 195.36 L365.92 195.29 L366.92 195.21 L367.92 195.13 L368.92 195.05 L369.92 194.98 L370.92 194.90 L371.92 194.82 L372.92 194.75 L373.92 194.67 L374.92 194.59 L375.92 194.52 L376.92 194.44 L377.92 194.36 L378.92 194.28 L379.92 194.21 L380.92 194.13 L381.91 194.05 L382.91 193.98 L383.91 193.90 L384.91 193.82 L385.91 193.75 L386.91 193.67 L387.91 193.60 L388.91 193.52 L389.91 193.45 L390.91 193.37 L391.91 193.30 L392.91 193.22 L393.91 193.15 L394.91 193.07 L395.91 193.00 L396.91 192.93 L397.91 192.85 L398.91 192.78 L399.91 192.70 L400.91 192.63 L401.91 192.55 L402.91 192.48 L403.91 192.40 L404.91 192.33 L405.90 192.25 L406.90 192.18 L407.90 192.10 L408.90 192.03 L409.90 191.95 L410.90 191.88 L411.90 191.80 L412.90 191.72 L413.90 191.65 L414.90 191.57 L415.90 191.49 L416.90 191.42 L417.90 191.34 L418.90 191.26 L419.90 191.18 L420.90 191.10 L421.90 191.02 L422.89 190.94 L423.89 190.86 L424.89 190.78 L425.89 190.70 L426.89 190.62 L427.89 190.53 L428.89 190.45 L429.89 190.37 L430.88 190.28 L431.88 190.20 L432.88 190.11 L433.88 190.02 L434.88 189.94 L435.88 189.85 L436.88 189.76 L437.87 189.67 L438.87 189.57 L439.87 189.48 L440.87 189.39 L441.86 189.29 L442.86 189.20 L443.86 189.10 L444.86 189.00 L445.86 188.91 L446.85 188.81 L447.85 188.71 L448.85 188.61 L449.85 188.51 L450.84 188.41 L451.84 188.31 L452.84 188.20 L453.83 188.10 L454.83 188.00 L455.83 187.90 L456.83 187.79 L457.82 187.69 L458.82 187.58 L459.82 187.48 L460.81 187.38 L461.81 187.27 L462.81 187.17 L463.81 187.06 L464.80 186.96 L465.80 186.85 L466.80 186.75 L467.79 186.65 L468.79 186.54 L469.79 186.44 L470.78 186.33 L471.78 186.23 L472.78 186.13 L473.78 186.02 L474.77 185.92 L475.77 185.82 L476.77 185.72 L477.76 185.62 L478.76 185.52 L479.76 185.42 L480.76 185.32 L481.75 185.22 L482.75 185.12 L483.75 185.02 L484.75 184.93 L485.74 184.83 L486.74 184.73 L487.74 184.64 L488.74 184.55 L489.74 184.46 L490.73 184.36 L491.73 184.27 L492.73 184.18 L493.73 184.10 L494.73 184.01 L495.73 183.92 L496.72 183.84 L497.72 183.75 L498.72 183.67 L499.72 183.59 L500.72 183.50 L501.72 183.42 L502.72 183.34 L503.72 183.25 L504.71 183.17 L505.71 183.09 L506.71 183.01 L507.71 182.93 L508.71 182.85 L509.71 182.77 L510.71 182.69 L511.71 182.61 L512.71 182.53 L513.71 182.45 L514.71 182.37 L515.70 182.29 L516.70 182.22 L517.70 182.14 L518.70 182.06 L519.70 181.98 L520.70 181.91 L521.70 181.83 L522.70 181.76 L523.70 181.68 L524.70 181.61 L525.70 181.53 L526.70 181.46 L527.70 181.39 L528.70 181.31 L529.70 181.24 L530.70 181.17 L531.70 181.10 L532.70 181.02 L533.70 180.95 L534.70 180.88 L535.70 180.81 L536.70 180.74 L537.70 180.67 L538.70 180.60 L539.70 180.53 L540.70 180.47 L541.70 180.40 L542.70 180.33 L543.70 180.26 L544.70 180.20 L545.70 180.13 L546.70 180.07 L547.70 180.00 L547.70 218.20 L546.64 218.28 L545.58 218.35 L544.52 218.43 L543.46 218.50 L542.40 218.58 L541.34 218.65 L540.28 218.73 L539.22 218.81 L538.16 218.88 L537.10 218.96 L536.05 219.04 L534.99 219.11 L533.93 219.19 L532.87 219.27 L531.81 219.35 L530.75 219.43 L529.69 219.50 L528.63 219.58 L527.57 219.66 L526.51 219.74 L525.45 219.82 L524.39 219.90 L523.33 219.98 L522.27 220.06 L521.21 220.14 L520.16 220.22 L519.10 220.30 L518.04 220.38 L516.98 220.46 L515.92 220.54 L514.86 220.62 L513.80 220.70 L512.74 220.78 L511.68 220.87 L510.62 220.95 L509.56 221.03 L508.51 221.11 L507.45 221.20 L506.39 221.28 L505.33 221.36 L504.27 221.44 L503.21 221.53 L502.15 221.61 L501.09 221.69 L500.03 221.78 L498.98 221.86 L497.92 221.95 L496.86 222.03 L495.80 222.12 L494.74 222.20 L493.68 222.29 L492.62 222.37 L491.56 222.46 L490.51 222.55 L489.45 222.64 L488.39 222.73 L487.33 222.82 L486.27 222.91 L485.21 223.00 L484.15 223.09 L483.10 223.18 L482.04 223.27 L480.98 223.36 L479.92 223.46 L478.86 223.55 L477.81 223.64 L476.75 223.74 L475.69 223.83 L474.63 223.92 L473.57 224.02 L472.51 224.11 L471.46 224.21 L470.40 224.30 L469.34 224.40 L468.28 224.49 L467.22 224.58 L466.17 224.68 L465.11 224.77 L464.05 224.87 L462.99 224.96 L461.93 225.06 L460.88 225.15 L459.82 225.25 L458.76 225.34 L457.70 225.43 L456.64 225.53 L455.59 225.62 L454.53 225.71 L453.47 225.81 L452.41 225.90 L451.35 225.99 L450.29 226.08 L449.24 226.17 L448.18 226.26 L447.12 226.35 L446.06 226.44 L445.00 226.53 L443.94 226.62 L442.89 226.71 L441.83 226.80 L440.77 226.88 L439.71 226.97 L438.65 227.06 L437.59 227.14 L436.53 227.23 L435.47 227.31 L434.42 227.39 L433.36 227.47 L432.30 227.55 L431.24 227.63 L430.18 227.71 L429.12 227.79 L428.06 227.87 L427.00 227.95 L425.94 228.02 L424.88 228.10 L423.82 228.17 L422.76 228.25 L421.70 228.32 L420.64 228.39 L419.58 228.47 L418.52 228.54 L417.46 228.61 L416.40 228.68 L415.34 228.75 L414.29 228.83 L413.23 228.90 L412.17 228.97 L411.11 229.04 L410.05 229.11 L408.99 229.18 L407.93 229.25 L406.87 229.32 L405.81 229.40 L404.75 229.47 L403.69 229.54 L402.63 229.61 L401.57 229.68 L400.51 229.76 L399.45 229.83 L398.39 229.90 L397.33 229.97 L396.27 230.05 L395.21 230.12 L394.15 230.20 L393.09 230.27 L392.03 230.35 L390.97 230.43 L389.91 230.51 L388.85 230.59 L387.79 230.66 L386.73 230.74 L385.67 230.82 L384.62 230.90 L383.56 230.98 L382.50 231.06 L381.44 231.15 L380.38 231.23 L379.32 231.31 L378.26 231.39 L377.20 231.47 L376.14 231.56 L375.08 231.64 L374.02 231.72 L372.97 231.81 L371.91 231.89 L370.85 231.97 L369.79 232.06 L368.73 232.14 L367.67 232.23 L366.61 232.31 L365.55 232.40 L364.49 232.48 L363.44 232.56 L362.38 232.65 L361.32 232.73 L360.26 232.82 L359.20 232.90 L358.14 232.99 L357.08 233.07 L356.02 233.16 L354.97 233.25 L353.91 233.33 L352.85 233.42 L351.79 233.51 L350.73 233.59 L349.67 233.68 L348.61 233.77 L347.55 233.86 L346.50 233.94 L345.44 234.03 L344.38 234.12 L343.32 234.21 L342.26 234.30 L341.20 234.39 L340.14 234.47 L339.09 234.56 L338.03 234.65 L336.97 234.74 L335.91 234.82 L334.85 234.91 L333.79 235.00 L332.73 235.08 L331.68 235.17 L330.62 235.25 L329.56 235.34 L328.50 235.42 L327.44 235.50 L326.38 235.59 L325.32 235.67 L324.26 235.75 L323.20 235.84 L322.15 235.92 L321.09 236.01 L320.03 236.09 L318.97 236.17 L317.91 236.25 L316.85 236.34 L315.79 236.42 L314.73 236.50 L313.67 236.58 L312.61 236.67 L311.55 236.75 L310.50 236.83 L309.44 236.91 L308.38 236.99 L307.32 237.07 L306.26 237.15 L305.20 237.23 L304.14 237.31 L303.08 237.39 L302.02 237.47 L300.96 237.55 L299.90 237.62 L298.84 237.70 L297.78 237.78 L296.72 237.86 L295.67 237.93 L294.61 238.01 L293.55 238.08 L292.49 238.16 L291.43 238.23 L290.37 238.30 L289.31 238.38 L288.25 238.45 L287.19 238.52 L286.13 238.60 L285.07 238.67 L284.01 238.74 L282.95 238.81 L281.89 238.88 L280.83 238.95 L279.77 239.03 L278.71 239.10 L277.65 239.17 L276.59 239.24 L275.53 239.31 L274.47 239.38 L273.41 239.44 L272.35 239.51 L271.29 239.58 L270.23 239.65 L269.17 239.72 L268.11 239.79 L267.05 239.85 L265.99 239.92 L264.93 239.99 L263.87 240.06 L262.81 240.12 L261.75 240.19 L260.69 240.26 L259.63 240.32 L258.57 240.39 L257.51 240.46 L256.45 240.54 L255.39 240.61 L254.33 240.68 L253.27 240.76 L252.21 240.83 L251.15 240.91 L250.09 240.98 L249.03 241.05 L247.97 241.12 L246.91 241.18 L245.85 241.24 L244.79 241.30 L243.73 241.35 L242.67 241.40 L241.60 241.45 L240.54 241.48 L239.48 241.52 L238.42 241.55 L237.36 241.58 L236.30 241.61 L235.24 241.64 L234.17 241.66 L233.11 241.69 L232.05 241.71 L230.99 241.74 L229.92 241.76 L228.86 241.77 L227.80 241.78 L226.74 241.79 L225.68 241.80 L224.61 241.80 L223.55 241.79 L222.49 241.78 L221.43 241.76 L220.37 241.73 L219.31 241.70 L218.24 241.66 L217.18 241.62 L216.12 241.57 L215.06 241.53 L214.00 241.48 L212.94 241.43 L211.87 241.38 L210.81 241.33 L209.75 241.29 L208.69 241.24 L207.63 241.19 L206.57 241.14 L205.51 241.09 L204.45 241.03 L203.39 240.97 L202.32 240.91 L201.26 240.85 L200.20 240.78 L199.14 240.71 L198.08 240.64 L197.02 240.57 L195.97 240.50 L194.91 240.42 L193.85 240.34 L192.79 240.26 L191.73 240.17 L190.67 240.08 L189.61 239.99 L188.55 239.89 L187.49 239.79 L186.44 239.68 L185.38 239.57 L184.32 239.46 L183.27 239.35 L182.21 239.23 L181.16 239.10 L180.11 238.97 L179.05 238.83 L178.00 238.68 L176.95 238.53 L175.90 238.37 L174.85 238.21 L173.80 238.04 L172.75 237.86 L171.70 237.68 L170.65 237.50 L169.61 237.31 L168.57 237.11 L167.53 236.91 L166.48 236.71 L165.43 236.50 L164.38 236.29 L163.32 236.07 L162.27 235.84 L161.22 235.60 L160.18 235.36 L159.14 235.10 L158.11 234.82 L157.09 234.53 L156.09 234.22 L155.10 233.89 L154.13 233.55 L153.17 233.16 L152.24 232.69 L151.32 232.17 L150.41 231.60 L149.51 231.01 L148.62 230.40 L147.72 229.79 L146.83 229.21 L145.93 228.64 L145.02 228.08 L144.12 227.52 L143.22 226.96 L142.32 226.39 L141.42 225.82 L140.53 225.24 L139.65 224.65 L138.77 224.05 L137.91 223.44 L137.05 222.81 L136.18 222.19 L135.31 221.56 L134.44 220.91 L133.59 220.26 L132.75 219.59 L131.93 218.91 L131.14 218.21 L130.38 217.49 L129.65 216.75 L128.95 215.99 L128.28 215.19 L127.62 214.37 L126.98 213.52 L126.35 212.66 L125.74 211.77 L125.14 210.88 L124.55 209.97 L123.98 209.06 L123.42 208.15 L122.87 207.23 L122.33 206.32 L121.80 205.41 L121.28 204.49 L120.77 203.56 L120.27 202.62 L119.78 201.67 L119.30 200.72 L118.83 199.76 L118.37 198.80 L117.91 197.84 L117.47 196.87 L117.03 195.90 L116.61 194.93 L116.18 193.96 L115.76 192.99 L115.35 192.01 L114.94 191.02 L114.54 190.04 L114.14 189.05 L113.75 188.06 L113.37 187.06 L113.00 186.07 L112.64 185.07 L112.29 184.07 L111.95 183.06 L111.62 182.06 L111.30 181.05 L110.99 180.03 L110.70 179.01 L110.41 177.99 L110.13 176.96 L109.86 175.94 L109.59 174.91 L109.32 173.88 L109.05 172.85 L108.79 171.82 L108.52 170.79 L108.26 169.76 L108.00 168.73 L107.75 167.70 L107.50 166.67 L107.25 165.63 L107.00 164.60 L106.75 163.57 L106.49 162.54 L106.23 161.51 L105.97 160.48 L105.69 159.45 L105.41 158.43 L105.12 157.41 L104.82 156.38 L104.53 155.36 L104.23 154.34 L103.95 153.32 L103.67 152.29 L103.40 151.26 L103.15 150.23 L102.92 149.20 L102.69 148.17 L102.46 147.13 L102.24 146.09 L102.02 145.05 L101.81 144.01 L101.60 142.97 L101.39 141.92 L101.19 140.88 L100.99 139.83 L100.80 138.79 L100.61 137.74 L100.42 136.70 L100.24 135.65 L100.07 134.60 L99.90 133.55 L99.73 132.50 L99.57 131.45 L99.41 130.40 L99.26 129.35 L99.11 128.30 L98.97 127.25 L98.83 126.20 L98.70 125.15 L98.56 124.09 L98.43 123.04 L98.31 121.98 L98.18 120.93 L98.06 119.87 L97.94 118.82 L97.81 117.76 L97.69 116.70 L97.57 115.65 L97.45 114.59 L97.33 113.54 L97.20 112.48 L97.07 111.43 L96.95 110.37 L96.81 109.32 L96.68 108.26 L96.55 107.21 L96.41 106.16 L96.28 105.10 L96.14 104.05 L96.01 103.00 L95.87 101.94 L95.73 100.89 L95.60 99.84 L95.46 98.78 L95.33 97.73 L95.20 96.67 L95.07 95.62 L94.94 94.57 L94.81 93.51 L94.68 92.46 L94.56 91.40 L94.44 90.35 L94.32 89.29 L94.20 88.24 L94.09 87.18 L93.97 86.12 L93.85 85.07 L93.74 84.01 L93.62 82.96 L93.51 81.90 L93.40 80.84 L93.28 79.79 L93.17 78.73 L93.06 77.67 L92.95 76.62 L92.84 75.56 L92.73 74.50 L92.63 73.45 L92.52 72.39 L92.42 71.33 L92.32 70.27 L92.22 69.22 L92.12 68.16 L92.02 67.10 L91.92 66.04 L91.83 64.99 L91.73 63.93 L91.64 62.87 L91.55 61.81 L91.46 60.75 L91.38 59.69 L91.29 58.64 L91.20 57.58 L91.12 56.52 L91.04 55.46 L90.95 54.40 L90.87 53.34 L90.79 52.28 L90.70 51.23 L90.62 50.17 L90.54 49.11 L90.46 48.05 L90.38 46.99 L90.30 45.93 L90.22 44.87 L90.14 43.81 L90.07 42.75 L89.99 41.69 L89.91 40.63 L89.84 39.58 L89.76 38.52 L89.69 37.46 L89.62 36.40 L89.54 35.34 L89.47 34.28 L89.40 33.22 L89.33 32.16 L89.26 31.10 L89.20 30.04 L89.13 28.98 L89.06 27.92 L89.00 26.85 L88.94 25.79 L88.87 24.73 L88.81 23.67 L88.75 22.61 L88.69 21.55 L88.63 20.49 L88.57 19.43 L88.52 18.37 L88.46 17.31 L88.41 16.25 L88.35 15.18 L88.30 14.12 L88.25 13.06 L88.20 12.00 Z" fill="#1eff0a" stroke="none"/>
<path d="M88.80 12.00 L88.84 12.89 L88.88 13.78 L88.92 14.67 L88.97 15.57 L89.01 16.46 L89.06 17.35 L89.10 18.24 L89.15 19.13 L89.20 20.02 L89.24 20.91 L89.29 21.80 L89.34 22.69 L89.40 23.58 L89.45 24.47 L89.50 25.36 L89.56 26.25 L89.61 27.15 L89.67 28.04 L89.72 28.93 L89.78 29.82 L89.84 30.71 L89.90 31.60 L89.96 32.49 L90.02 33.38 L90.08 34.26 L90.14 35.15 L90.20 36.04 L90.26 36.93 L90.33 37.82 L90.39 38.71 L90.46 39.60 L90.52 40.49 L90.59 41.38 L90.66 42.27 L90.72 43.16 L90.79 44.05 L90.86 44.94 L90.93 45.82 L91.00 46.71 L91.07 47.60 L91.14 48.49 L91.21 49.38 L91.28 50.27 L91.36 51.16 L91.43 52.04 L91.50 52.93 L91.58 53.82 L91.65 54.71 L91.73 55.60 L91.80 56.49 L91.88 57.37 L91.95 58.26 L92.03 59.15 L92.10 60.04 L92.18 60.93 L92.26 61.81 L92.34 62.70 L92.42 63.59 L92.51 64.48 L92.59 65.36 L92.68 66.25 L92.77 67.14 L92.85 68.02 L92.94 68.91 L93.04 69.80 L93.13 70.69 L93.22 71.57 L93.32 72.46 L93.42 73.35 L93.51 74.23 L93.61 75.12 L93.71 76.01 L93.81 76.89 L93.91 77.78 L94.01 78.66 L94.12 79.55 L94.22 80.44 L94.32 81.32 L94.43 82.21 L94.54 83.09 L94.64 83.98 L94.75 84.86 L94.86 85.75 L94.96 86.64 L95.07 87.52 L95.18 88.41 L95.29 89.29 L95.40 90.18 L95.51 91.06 L95.62 91.95 L95.73 92.83 L95.84 93.72 L95.95 94.60 L96.06 95.48 L96.17 96.37 L96.28 97.25 L96.40 98.14 L96.51 99.02 L96.63 99.91 L96.74 100.79 L96.86 101.67 L96.98 102.56 L97.09 103.44 L97.21 104.33 L97.33 105.21 L97.46 106.09 L97.58 106.98 L97.70 107.86 L97.82 108.74 L97.95 109.63 L98.08 110.51 L98.20 111.39 L98.33 112.28 L98.46 113.16 L98.59 114.04 L98.72 114.92 L98.85 115.80 L98.99 116.69 L99.12 117.57 L99.26 118.45 L99.40 119.33 L99.53 120.21 L99.67 121.09 L99.81 121.97 L99.96 122.85 L100.10 123.73 L100.25 124.61 L100.40 125.49 L100.56 126.37 L100.71 127.25 L100.87 128.12 L101.03 129.00 L101.19 129.88 L101.35 130.75 L101.52 131.63 L101.69 132.50 L101.86 133.38 L102.03 134.25 L102.21 135.13 L102.39 136.00 L102.57 136.88 L102.76 137.75 L102.94 138.62 L103.13 139.49 L103.33 140.36 L103.52 141.23 L103.72 142.10 L103.93 142.97 L104.14 143.83 L104.36 144.70 L104.59 145.56 L104.82 146.42 L105.05 147.28 L105.27 148.15 L105.50 149.01 L105.72 149.87 L105.94 150.74 L106.14 151.61 L106.35 152.47 L106.54 153.34 L106.74 154.22 L106.93 155.09 L107.12 155.96 L107.31 156.83 L107.51 157.70 L107.70 158.57 L107.91 159.44 L108.12 160.30 L108.34 161.16 L108.57 162.03 L108.79 162.89 L109.01 163.76 L109.24 164.63 L109.48 165.49 L109.71 166.36 L109.96 167.22 L110.20 168.08 L110.46 168.93 L110.72 169.79 L111.00 170.63 L111.28 171.47 L111.57 172.31 L111.88 173.14 L112.20 173.96 L112.54 174.78 L112.91 175.59 L113.29 176.39 L113.69 177.19 L114.10 177.99 L114.52 178.78 L114.95 179.57 L115.37 180.36 L115.80 181.15 L116.23 181.93 L116.67 182.70 L117.12 183.47 L117.58 184.24 L118.01 185.02 L118.42 185.81 L118.81 186.61 L119.20 187.42 L119.58 188.22 L119.96 189.03 L120.34 189.84 L120.74 190.63 L121.16 191.42 L121.59 192.20 L122.03 192.98 L122.47 193.77 L122.91 194.55 L123.37 195.33 L123.83 196.10 L124.31 196.86 L124.80 197.60 L125.30 198.33 L125.82 199.05 L126.35 199.74 L126.91 200.41 L127.51 201.07 L128.13 201.71" stroke="#001000" stroke-opacity="0.85" stroke-width="1.9" stroke-dasharray="14.8 6.688" stroke-dashoffset="-21.46"/>
<path d="M128.13 201.71 L128.77 202.33 L129.43 202.95 L130.09 203.55 L130.76 204.15 L131.43 204.75 L132.09 205.35 L132.76 205.93 L133.44 206.51 L134.13 207.08 L134.82 207.65 L135.51 208.22 L136.19 208.79 L136.86 209.38 L137.52 209.98 L138.16 210.61 L138.79 211.26 L139.42 211.91 L140.05 212.55 L140.70 213.17 L141.36 213.74 L142.05 214.27 L142.77 214.75 L143.51 215.23 L144.26 215.68 L145.03 216.13 L145.82 216.56 L146.61 216.98 L147.42 217.38 L148.23 217.77 L149.05 218.16 L149.88 218.53 L150.71 218.88 L151.54 219.23 L152.38 219.57 L153.21 219.90 L154.03 220.21 L154.86 220.52 L155.69 220.82 L156.53 221.12 L157.38 221.41 L158.22 221.69 L159.07 221.97 L159.93 222.24 L160.78 222.50 L161.64 222.76 L162.50 223.00 L163.37 223.25 L164.23 223.48 L165.10 223.70 L165.96 223.92 L166.83 224.13 L167.70 224.33 L168.56 224.53 L169.43 224.72 L170.30 224.91 L171.17 225.10 L172.05 225.28 L172.92 225.46 L173.80 225.63 L174.68 225.80 L175.56 225.97 L176.44 226.12 L177.32 226.27 L178.20 226.41 L179.08 226.54 L179.97 226.66 L180.85 226.77 L181.73 226.87 L182.62 226.96 L183.50 227.05 L184.39 227.13 L185.28 227.21 L186.17 227.28 L187.05 227.35 L187.94 227.42 L188.83 227.48 L189.73 227.54 L190.62 227.60 L191.51 227.66 L192.40 227.71 L193.29 227.76 L194.18 227.81 L195.07 227.85 L195.96 227.90 L196.85 227.94 L197.74 227.99 L198.63 228.03 L199.53 228.07 L200.42 228.12 L201.31 228.16 L202.20 228.20 L203.09 228.24 L203.98 228.27 L204.87 228.30 L205.76 228.33 L206.66 228.36 L207.55 228.38 L208.44 228.39 L209.33 228.40 L210.22 228.40 L211.11 228.40 L212.00 228.40 L212.90 228.40 L213.79 228.40 L214.68 228.40 L215.57 228.40 L216.46 228.40 L217.35 228.40 L218.25 228.40 L219.14 228.40 L220.03 228.40 L220.92 228.40 L221.81 228.40 L222.71 228.40 L223.60 228.40 L224.49 228.40 L225.38 228.40 L226.27 228.40 L227.16 228.39 L228.06 228.39 L228.95 228.38 L229.84 228.37 L230.73 228.36 L231.62 228.35 L232.51 228.34 L233.41 228.33 L234.30 228.31 L235.19 228.29 L236.08 228.28 L236.97 228.26 L237.86 228.24 L238.76 228.23 L239.65 228.21 L240.54 228.19 L241.43 228.16 L242.32 228.13 L243.21 228.10 L244.10 228.06 L244.99 228.02 L245.88 227.97 L246.77 227.93 L247.66 227.87 L248.55 227.82 L249.44 227.76 L250.33 227.70 L251.22 227.64 L252.11 227.58 L253.00 227.51 L253.89 227.45 L254.78 227.38 L255.67 227.32 L256.56 227.25 L257.45 227.18 L258.34 227.12 L259.23 227.05 L260.12 226.99 L261.01 226.93 L261.90 226.87 L262.79 226.81 L263.68 226.76 L264.57 226.70 L265.46 226.65 L266.35 226.59 L267.24 226.54 L268.13 226.48 L269.02 226.43 L269.91 226.37 L270.80 226.31 L271.69 226.26 L272.58 226.20 L273.47 226.15 L274.36 226.09 L275.25 226.04 L276.14 225.98 L277.03 225.93 L277.92 225.87 L278.81 225.82 L279.70 225.76 L280.59 225.71 L281.48 225.65 L282.37 225.60 L283.26 225.54 L284.15 225.49 L285.04 225.43 L285.93 225.38 L286.82 225.32 L287.71 225.27 L288.60 225.21 L289.49 225.15 L290.38 225.10 L291.27 225.04 L292.16 224.99 L293.05 224.93 L293.94 224.87 L294.83 224.82 L295.72 224.76 L296.61 224.70 L297.50 224.65 L298.39 224.59 L299.28 224.53 L300.17 224.47 L301.06 224.42 L301.95 224.36 L302.84 224.30 L303.73 224.24 L304.62 224.18 L305.51 224.13 L306.40 224.07 L307.28 224.01 L308.17 223.95 L309.06 223.89 L309.95 223.83 L310.84 223.77 L311.73 223.71 L312.62 223.65 L313.51 223.59 L314.40 223.53 L315.29 223.46 L316.18 223.40 L317.07 223.34 L317.96 223.28 L318.85 223.22 L319.74 223.15 L320.63 223.09 L321.52 223.03 L322.41 222.96 L323.30 222.90 L324.19 222.83 L325.07 222.77 L325.96 222.70 L326.85 222.64 L327.74 222.57 L328.63 222.50 L329.52 222.44 L330.41 222.37 L331.30 222.30 L332.19 222.23 L333.08 222.16 L333.96 222.09 L334.85 222.02 L335.74 221.95 L336.63 221.87 L337.52 221.80 L338.41 221.73 L339.30 221.65 L340.19 221.58 L341.07 221.51 L341.96 221.43 L342.85 221.36 L343.74 221.28 L344.63 221.21 L345.52 221.13 L346.40 221.06 L347.29 220.98 L348.18 220.90 L349.07 220.83 L349.96 220.75 L350.85 220.67 L351.74 220.60 L352.62 220.52 L353.51 220.44 L354.40 220.36 L355.29 220.29 L356.18 220.21 L357.07 220.13 L357.95 220.05 L358.84 219.98 L359.73 219.90 L360.62 219.82 L361.51 219.74 L362.40 219.67 L363.28 219.59 L364.17 219.51 L365.06 219.43 L365.95 219.36 L366.84 219.28 L367.73 219.20 L368.61 219.13 L369.50 219.05 L370.39 218.97 L371.28 218.90 L372.17 218.82 L373.06 218.75 L373.95 218.67 L374.83 218.60 L375.72 218.52 L376.61 218.45 L377.50 218.38 L378.39 218.30 L379.28 218.23 L380.17 218.15 L381.05 218.08 L381.94 218.01 L382.83 217.93 L383.72 217.86 L384.61 217.79 L385.50 217.71 L386.39 217.64 L387.28 217.57 L388.16 217.49 L389.05 217.42 L389.94 217.35 L390.83 217.27 L391.72 217.20 L392.61 217.13 L393.50 217.05 L394.38 216.98 L395.27 216.91 L396.16 216.83 L397.05 216.76 L397.94 216.69 L398.83 216.62 L399.72 216.54 L400.61 216.47 L401.49 216.40 L402.38 216.32 L403.27 216.25 L404.16 216.18 L405.05 216.11 L405.94 216.03 L406.83 215.96 L407.71 215.89 L408.60 215.81 L409.49 215.74 L410.38 215.67 L411.27 215.59 L412.16 215.52 L413.05 215.45 L413.94 215.38 L414.82 215.30 L415.71 215.23 L416.60 215.16 L417.49 215.08 L418.38 215.01 L419.27 214.94 L420.16 214.86 L421.05 214.79 L421.93 214.72 L422.82 214.64 L423.71 214.57 L424.60 214.50 L425.49 214.42 L426.38 214.35 L427.27 214.28 L428.15 214.20 L429.04 214.13 L429.93 214.06 L430.82 213.98 L431.71 213.91 L432.60 213.83 L433.49 213.76 L434.37 213.69 L435.26 213.61 L436.15 213.54 L437.04 213.46 L437.93 213.39 L438.82 213.31 L439.71 213.24 L440.59 213.16 L441.48 213.09 L442.37 213.01 L443.26 212.94 L444.15 212.86 L445.04 212.79 L445.93 212.71 L446.81 212.63 L447.70 212.56 L448.59 212.48 L449.48 212.41 L450.37 212.33 L451.26 212.25 L452.14 212.18 L453.03 212.10 L453.92 212.03 L454.81 211.95 L455.70 211.87 L456.59 211.80 L457.48 211.72 L458.36 211.65 L459.25 211.57 L460.14 211.49 L461.03 211.42 L461.92 211.34 L462.81 211.26 L463.69 211.19 L464.58 211.11 L465.47 211.04 L466.36 210.96 L467.25 210.88 L468.14 210.81 L469.03 210.73 L469.91 210.66 L470.80 210.58 L471.69 210.51 L472.58 210.43 L473.47 210.36 L474.36 210.28 L475.24 210.21 L476.13 210.13 L477.02 210.06 L477.91 209.98 L478.80 209.91 L479.69 209.83 L480.58 209.76 L481.46 209.68 L482.35 209.61 L483.24 209.54 L484.13 209.46 L485.02 209.39 L485.91 209.32 L486.80 209.24 L487.69 209.17 L488.57 209.10 L489.46 209.03 L490.35 208.95 L491.24 208.88 L492.13 208.81 L493.02 208.74 L493.91 208.67 L494.80 208.60 L495.68 208.53 L496.57 208.45 L497.46 208.38 L498.35 208.31 L499.24 208.24 L500.13 208.17 L501.02 208.10 L501.91 208.03 L502.80 207.96 L503.68 207.89 L504.57 207.82 L505.46 207.76 L506.35 207.69 L507.24 207.62 L508.13 207.55 L509.02 207.48 L509.91 207.41 L510.80 207.34 L511.69 207.27 L512.57 207.21 L513.46 207.14 L514.35 207.07 L515.24 207.00 L516.13 206.93 L517.02 206.87 L517.91 206.80 L518.80 206.73 L519.69 206.66 L520.58 206.60 L521.47 206.53 L522.35 206.46 L523.24 206.39 L524.13 206.33 L525.02 206.26 L525.91 206.19 L526.80 206.13 L527.69 206.06 L528.58 205.99 L529.47 205.93 L530.36 205.86 L531.25 205.80 L532.14 205.73 L533.03 205.67 L533.91 205.60 L534.80 205.53 L535.69 205.47 L536.58 205.40 L537.47 205.34 L538.36 205.27 L539.25 205.21 L540.14 205.14 L541.03 205.08 L541.92 205.02 L542.81 204.95 L543.70 204.89 L544.59 204.82 L545.48 204.76 L546.37 204.70 L547.26 204.63" stroke="#001400" stroke-opacity="0.62" stroke-width="2.0" stroke-dasharray="14.8 6.688" stroke-dashoffset="174.73"/>
</g>
<rect x="103.0" y="196.8" width="112.6" height="45.5" fill="none" stroke="rgb(235,112,25)" stroke-opacity="0.76" stroke-width="2.8"/>
<rect x="103.0" y="207" width="111.4" height="24.3" fill="rgb(128,128,128)" fill-opacity="0.7"/>
<path d="M69.15 10.15H549.3V347.7H69.15Z M72.45 13.85V344.9H545.3V13.85Z" fill="#000" fill-rule="evenodd"/>
<path d="M94.74 346.20 v-5.00 M94.74 11.90 v5.00 M118.58 346.20 v-5.00 M118.58 11.90 v5.00 M142.42 346.20 v-5.00 M142.42 11.90 v5.00 M166.26 346.20 v-10.00 M166.26 11.90 v10.00 M190.10 346.20 v-5.00 M190.10 11.90 v5.00 M213.94 346.20 v-5.00 M213.94 11.90 v5.00 M237.78 346.20 v-5.00 M237.78 11.90 v5.00 M261.62 346.20 v-10.00 M261.62 11.90 v10.00 M285.46 346.20 v-5.00 M285.46 11.90 v5.00 M309.30 346.20 v-5.00 M309.30 11.90 v5.00 M333.14 346.20 v-5.00 M333.14 11.90 v5.00 M356.98 346.20 v-10.00 M356.98 11.90 v10.00 M380.82 346.20 v-5.00 M380.82 11.90 v5.00 M404.66 346.20 v-5.00 M404.66 11.90 v5.00 M428.50 346.20 v-5.00 M428.50 11.90 v5.00 M452.34 346.20 v-10.00 M452.34 11.90 v10.00 M476.18 346.20 v-5.00 M476.18 11.90 v5.00 M500.02 346.20 v-5.00 M500.02 11.90 v5.00 M523.86 346.20 v-5.00 M523.86 11.90 v5.00 M70.90 329.49 h5.00 M547.70 329.49 h-5.00 M70.90 312.77 h5.00 M547.70 312.77 h-5.00 M70.90 296.05 h5.00 M547.70 296.05 h-5.00 M70.90 279.34 h10.00 M547.70 279.34 h-10.00 M70.90 262.62 h5.00 M547.70 262.62 h-5.00 M70.90 245.91 h5.00 M547.70 245.91 h-5.00 M70.90 229.19 h5.00 M547.70 229.19 h-5.00 M70.90 212.48 h10.00 M547.70 212.48 h-10.00 M70.90 195.76 h5.00 M547.70 195.76 h-5.00 M70.90 179.05 h5.00 M547.70 179.05 h-5.00 M70.90 162.33 h5.00 M547.70 162.33 h-5.00 M70.90 145.62 h10.00 M547.70 145.62 h-10.00 M70.90 128.90 h5.00 M547.70 128.90 h-5.00 M70.90 112.19 h5.00 M547.70 112.19 h-5.00 M70.90 95.47 h5.00 M547.70 95.47 h-5.00 M70.90 78.76 h10.00 M547.70 78.76 h-10.00 M70.90 62.04 h5.00 M547.70 62.04 h-5.00 M70.90 45.33 h5.00 M547.70 45.33 h-5.00 M70.90 28.61 h5.00 M547.70 28.61 h-5.00" stroke="#000" stroke-width="2.6" fill="none"/>
<g font-family="Liberation Sans, sans-serif" font-weight="bold" fill="#000" style="font-kerning:none">
<g font-size="17.6" text-anchor="middle">
<text x="71.20" y="368.9">0</text>
<text x="166.56" y="368.9">20</text>
<text x="261.92" y="368.9">40</text>
<text x="357.28" y="368.9">60</text>
<text x="452.64" y="368.9">80</text>
<path d="M806 0H525V1059Q371 915 162 846V1101Q272 1137 401 1237.5Q530 1338 578 1472H806V0Z" transform="translate(533.02 368.90) scale(0.00859 -0.00859)" fill="#000"/>
<text x="542.81" y="368.9" text-anchor="start">00</text>
</g><g font-size="18.3" text-anchor="end">
<path d="M806 0H525V1059Q371 915 162 846V1101Q272 1137 401 1237.5Q530 1338 578 1472H806V0Z" transform="translate(54.90 19.00) scale(0.00894 -0.00894)" fill="#000"/>
<text x="62.0" y="352.10">0</text>
<text x="62.0" y="285.49">0.2</text>
<text x="62.0" y="218.88">0.4</text>
<text x="62.0" y="152.27">0.6</text>
<text x="62.0" y="85.66">0.8</text>
</g>
<text font-size="18.2" x="265.9" y="391">p</text>
<text font-size="12.6" x="276.0" y="398.5">T</text>
<text font-size="18.35" x="289.1" y="391">(GeV/c)</text>
<text font-size="18.2" transform="translate(19.8 194.3) rotate(-90) scale(0.9 1)">R</text>
<text font-size="13.3" transform="translate(27.0 181.8) rotate(-90)">AA</text>
<rect x="296.6" y="53.2" width="25.2" height="14.5" fill="#1eff0a"/>
<text font-size="18.8" x="330.8" y="66.8">B WHDG</text>
<path d="M296.9 80.1 h11 M313.8 80.1 h7.6" stroke="#000" stroke-width="3"/>
<path d="M296.9 86.3 h11 M313.8 86.3 h7.6" stroke="#067f06" stroke-width="3"/>
<path d="M296.9 92.4 h11 M313.8 92.4 h7.6" stroke="#fb0008" stroke-width="3"/>
<text font-size="18.8" x="330.7" y="90.3">B AdS/CFT Drag</text>
<text font-size="18.8" x="340.2" y="121.4">s = 2.76 ATeV; 0-20%</text>
<text font-size="21" x="329.6" y="121.6" font-family="Liberation Serif, serif" font-weight="normal" fill="#2a2a2a">√</text>
<rect x="300.45" y="129.55" width="19.5" height="22.9" fill="none" stroke="rgb(235,112,25)" stroke-opacity="0.76" stroke-width="2.9"/>
<rect x="300.4" y="137.2" width="19.4" height="7" fill="rgb(128,128,128)" fill-opacity="0.7"/>
<text font-size="20.3" x="332.6" y="147.6">CMS</text>
<text font-size="20.3" x="385.2" y="147.6">B</text>
<path d="M400.5 142.8 H419.6 M416 139.3 L419.8 142.8 L416 146.3" fill="none" stroke="#000" stroke-width="1.2"/>
<path d="M633 1466H928V538Q928 356 896 258Q853 130 740 52.5Q627 -25 442 -25Q225 -25 108 96.5Q-9 218 -10 453L269 485Q274 359 306 307Q354 228 452 228Q551 228 592 284.5Q633 341 633 519Z" transform="translate(421.4 147.6) scale(0.00892 -0.00991)" fill="#000"/>
<text font-size="20.3" x="432.2" y="147.6" transform="translate(432.2 0) scale(1.08 1) translate(-432.2 0)">/</text>
<text font-size="21" x="0" y="0" transform="translate(439.0 147.6) scale(1.13 0.98)" font-family="Liberation Serif, serif" font-style="italic" font-weight="normal" stroke="#000" stroke-width="0.55">ψ</text>
</g>
</svg>
</body></html>
